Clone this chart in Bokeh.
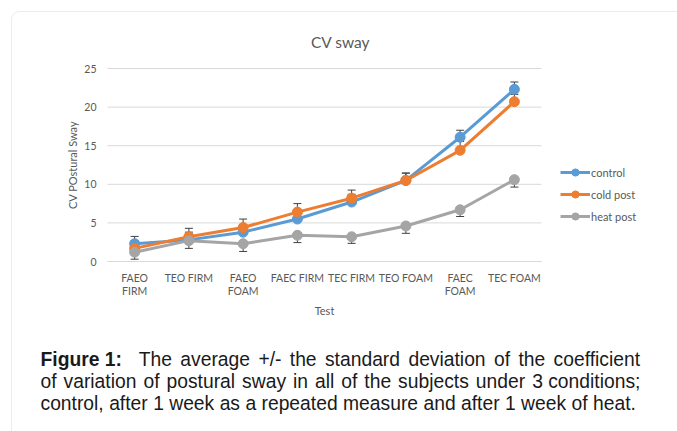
from bokeh.plotting import figure
from bokeh.models import (ColumnDataSource, Whisker, TeeHead, Legend, LegendItem, Label,
                          BoxAnnotation, FixedTicker, Range1d, LinearAxis)
from bokeh.embed import file_html
from bokeh.resources import INLINE

# ---------------- data ----------------
categories = ["FAEO\nFIRM", "TEO FIRM", "FAEO\nFOAM", "FAEC FIRM", "TEC FIRM",
              "TEO FOAM", "FAEC\nFOAM", "TEC FOAM"]
control = [2.3, 2.8, 3.8, 5.5, 7.7, 10.5, 16.1, 22.3]
cold_post = [1.7, 3.2, 4.4, 6.4, 8.2, 10.5, 14.4, 20.7]
heat_post = [1.2, 2.7, 2.3, 3.4, 3.2, 4.6, 6.7, 10.6]
control_sd = [0.95, 1.0, 1.0, 1.0, 1.0, 0.95, 0.9, 0.95]
cold_post_sd = [1.0, 1.1, 1.1, 1.1, 1.05, 0.95, 1.15, 0.95]
heat_post_sd = [0.9, 1.0, 1.0, 0.95, 0.85, 0.95, 0.87, 0.96]
series_names = ["control", "cold post", "heat post"]
y_ticks = [0, 5, 10, 15, 20, 25]

title_text = "CV sway"
x_title = "Test"
y_title = "CV POstural Sway"
caption_bold = "Figure 1:"
caption_lines = [
    "The average +/- the standard deviation of the coefficient",
    "of variation of postural sway in all of the subjects under 3 conditions;",
    "control, after 1 week as a repeated measure and after 1 week of heat.",
]

# ---------------- style / layout ----------------
COLORS = ["#5B9BD5", "#ED7D31", "#A5A5A5"]
TXT = "#595959"
GRID = "#D9D9D9"
ERR = "#404040"
FONT = "Lato"
TICK_FS = "10.5px"

W, H = 677, 431
# plot-area box in canvas pixels
PL, PR, PT, PB = 107, 541, 68, 261

n = len(categories)
y0, y1 = y_ticks[0], y_ticks[-1]
xpx = (PR - PL) / n
ypx = (PB - PT) / (y1 - y0)
x_start = 0.5 - PL / xpx
x_end = n + 0.5 + (W - PR) / xpx
y_end = y1 + PT / ypx
y_start = y0 - (H - PB) / ypx


def sx(px):
    return px


def sy(py):
    return H - py


xs = list(range(1, n + 1))

p = figure(width=W, height=H, output_backend="svg", toolbar_location=None,
           x_range=Range1d(x_start, x_end), y_range=Range1d(y_start, y_end),
           x_axis_location=None, y_axis_location=None, min_border=0)
p.outline_line_color = None
p.background_fill_color = "white"
p.border_fill_color = "white"
p.xgrid.grid_line_color = None
p.ygrid.grid_line_color = None

# horizontal gridlines limited to the plot area
p.segment(x0=[0.5] * len(y_ticks), x1=[n + 0.5] * len(y_ticks), y0=y_ticks, y1=y_ticks,
          line_color=GRID, line_width=1, level="underlay")

# axes placed at fixed data positions
xaxis = LinearAxis(fixed_location=y0, bounds=(0.5, n + 0.5), ticker=FixedTicker(ticks=xs))
xaxis.major_label_overrides = {x: c for x, c in zip(xs, categories)}
xaxis.major_tick_line_color = None
xaxis.minor_tick_line_color = None
xaxis.axis_line_color = GRID
xaxis.major_label_standoff = 4
xaxis.major_label_text_font = FONT
xaxis.major_label_text_font_size = TICK_FS
xaxis.major_label_text_color = TXT
xaxis.major_label_text_line_height = 1.15
xaxis.axis_label = x_title
xaxis.axis_label_text_font = FONT
xaxis.axis_label_text_font_size = "11px"
xaxis.axis_label_text_font_style = "normal"
xaxis.axis_label_text_color = TXT
xaxis.axis_label_standoff = 4
p.add_layout(xaxis, "below")

yaxis = LinearAxis(fixed_location=0.5, bounds=(y0, y1), ticker=FixedTicker(ticks=y_ticks))
yaxis.major_tick_line_color = None
yaxis.minor_tick_line_color = None
yaxis.axis_line_color = None
yaxis.major_label_standoff = 5
yaxis.major_label_text_font = FONT
yaxis.major_label_text_font_size = TICK_FS
yaxis.major_label_text_color = TXT
yaxis.axis_label = y_title
yaxis.axis_label_text_font = FONT
yaxis.axis_label_text_font_size = "11px"
yaxis.axis_label_text_font_style = "normal"
yaxis.axis_label_text_color = TXT
yaxis.axis_label_standoff = 2
p.add_layout(yaxis, "left")

# series
series = [control, cold_post, heat_post]
sds = [control_sd, cold_post_sd, heat_post_sd]
directions = ["up", "up", "down"]
items = []
for name, vals, sd, col, d in zip(series_names, series, sds, COLORS, directions):
    if d == "up":
        lo = list(vals)
        hi = [v + e for v, e in zip(vals, sd)]
    else:
        lo = [v - e for v, e in zip(vals, sd)]
        hi = list(vals)
    src = ColumnDataSource(dict(x=xs, y=vals, lo=lo, hi=hi))
    wk = Whisker(base="x", lower="lo", upper="hi", source=src, line_color=ERR, line_width=1,
                 level="underlay")
    if d == "up":
        wk.upper_head = TeeHead(size=8, line_color=ERR, line_width=1)
        wk.lower_head = None
    else:
        wk.lower_head = TeeHead(size=8, line_color=ERR, line_width=1)
        wk.upper_head = None
    p.add_layout(wk)
    lr = p.line("x", "y", source=src, line_color=col, line_width=3)
    sr = p.scatter("x", "y", source=src, size=10, fill_color=col, line_color=col)
    items.append(LegendItem(label=name, renderers=[lr, sr]))

legend = Legend(items=items, location=(sx(560), sy(225)), orientation="vertical",
                border_line_color=None, background_fill_alpha=0, glyph_width=30, glyph_height=18,
                label_standoff=1, spacing=4, padding=0, margin=0,
                label_text_font=FONT, label_text_font_size="11px", label_text_color=TXT)
p.add_layout(legend)

# chart title
p.add_layout(Label(x=sx(340), y=sy(41), x_units="screen", y_units="screen", text=title_text,
                   text_align="center", text_baseline="middle", text_font=FONT,
                   text_font_size="15.5px", text_color=TXT))

# chart border (rounded corner)
p.add_layout(BoxAnnotation(left=sx(11), right=sx(W + 50), top=sy(11), bottom=sy(H + 50),
                           left_units="screen", right_units="screen", top_units="screen",
                           bottom_units="screen", fill_alpha=0, line_color="#BFBFBF",
                           line_width=1, border_radius=8))

# caption, justified
ARIAL = {' ': 278, 'a': 556, 'b': 556, 'c': 500, 'd': 556, 'e': 556, 'f': 278, 'g': 556, 'h': 556,
         'i': 222, 'j': 222, 'k': 500, 'l': 222, 'm': 833, 'n': 556, 'o': 556, 'p': 556, 'q': 556,
         'r': 333, 's': 500, 't': 278, 'u': 556, 'v': 500, 'w': 722, 'x': 500, 'y': 500, 'z': 500,
         ',': 278, '.': 278, ';': 278, ':': 278, '+': 584, '/': 278, '-': 333, '1': 556, '3': 556,
         'T': 611, 'F': 611}
ARIAL_B = {'F': 611, 'i': 278, 'g': 611, 'u': 611, 'r': 389, 'e': 556, ' ': 278, '1': 556, ':': 333}
CAP_FS = 19.3
CAP_X0, CAP_X1 = 40, 640
CAP_Y = [359, 381, 403]
CAP_FONT = "Liberation Sans"
CAP_COL = "#1a1a1a"


def tw(s, table):
    return sum(table.get(c, 556) for c in s) * CAP_FS / 1000.0


def chunks(line):
    # keep a bare number together with the following word
    out = []
    carry = None
    for w in line.split():
        if carry is not None:
            out.append(carry + " " + w)
            carry = None
        elif w.isdigit():
            carry = w
        else:
            out.append(w)
    if carry is not None:
        out.append(carry)
    return out


for i, line in enumerate(caption_lines):
    words = [(w, False) for w in chunks(line)]
    units = [1] * (len(words) - 1)
    if i == 0:
        words = [(caption_bold, True)] + words
        units = [2] + units
    widths = [tw(w, ARIAL_B if b else ARIAL) for w, b in words]
    space = ARIAL[' '] * CAP_FS / 1000.0
    if i < len(caption_lines) - 1:
        gap = (CAP_X1 - CAP_X0 - sum(widths)) / sum(units)
    else:
        gap = space
    x = CAP_X0
    for k, ((w, b), wd) in enumerate(zip(words, widths)):
        p.add_layout(Label(x=sx(x), y=sy(CAP_Y[i]), x_units="screen", y_units="screen", text=w,
                           text_align="left", text_baseline="middle", text_font=CAP_FONT,
                           text_font_size=f"{CAP_FS}px", text_color=CAP_COL,
                           text_font_style="bold" if b else "normal"))
        if k < len(units):
            x += wd + units[k] * gap

open("out.html", "w").write(file_html(p, INLINE))
